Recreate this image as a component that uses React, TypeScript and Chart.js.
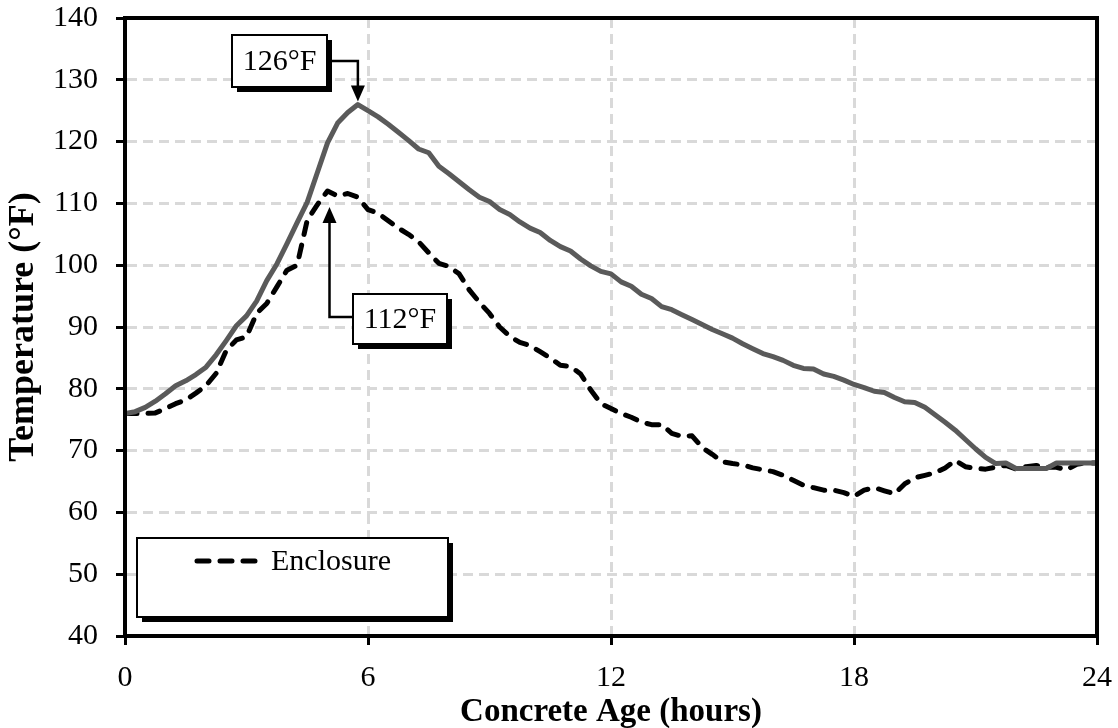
import React, { useEffect, useRef } from "react";
import { Chart, registerables } from "chart.js";

Chart.register(...registerables);

// Time since placement, in hours (15-minute readings)
const hours = [
  0, 0.25, 0.5, 0.75, 1, 1.25, 1.5, 1.75, 2, 2.25, 2.5, 2.75, 3, 3.25, 3.5, 3.75,
  4, 4.25, 4.5, 4.75, 5, 5.25, 5.5, 5.75, 6, 6.25, 6.5, 6.75, 7, 7.25, 7.5, 7.75,
  8, 8.25, 8.5, 8.75, 9, 9.25, 9.5, 9.75, 10, 10.25, 10.5, 10.75, 11, 11.25, 11.5, 11.75,
  12, 12.25, 12.5, 12.75, 13, 13.25, 13.5, 13.75, 14, 14.25, 14.5, 14.75, 15, 15.25, 15.5, 15.75,
  16, 16.25, 16.5, 16.75, 17, 17.25, 17.5, 17.75, 18, 18.25, 18.5, 18.75, 19, 19.25, 19.5, 19.75,
  20, 20.25, 20.5, 20.75, 21, 21.25, 21.5, 21.75, 22, 22.25, 22.5, 22.75, 23, 23.25, 23.5, 23.75,
  24,
];

// Concrete temperature (°F)
const concreteTemp = [
  76, 76.3, 77.0, 78.0, 79.2, 80.5, 81.3, 82.3, 83.5, 85.5, 87.8, 90.2, 91.8, 94.2, 97.5, 100.2,
  103.5, 106.9, 110.2, 115.0, 119.8, 123.0, 124.7, 126.0, 125.0, 124.0, 122.8, 121.5, 120.2, 118.8, 118.2, 116.0,
  114.8, 113.5, 112.2, 111.0, 110.3, 109.0, 108.2, 107.0, 106.0, 105.3, 104.0, 103.0, 102.3, 101.0, 99.9, 99.0,
  98.6, 97.3, 96.6, 95.3, 94.6, 93.3, 92.8, 92.0, 91.2, 90.4, 89.6, 88.9, 88.2, 87.3, 86.5, 85.7,
  85.2, 84.6, 83.8, 83.3, 83.2, 82.4, 82.0, 81.4, 80.7, 80.2, 79.6, 79.4, 78.6, 77.9, 77.8, 77.0,
  75.8, 74.6, 73.3, 71.8, 70.3, 68.9, 67.9, 68.0, 67.1, 67.1, 67.1, 67.1, 68.0, 68.0, 68.0, 68.0,
  68.0,
];

// Enclosure air temperature (°F)
const enclosureTemp = [
  76, 76, 76, 76.1, 76.8, 77.6, 78.2, 79.3, 80.5, 82.5, 86.2, 87.9, 88.4, 92.2, 93.8, 96.5,
  99.2, 100.0, 107.3, 109.8, 112.0, 111.2, 111.6, 111.0, 109.0, 108.4, 107.2, 106.0, 105.0, 103.8, 102.0, 100.3,
  99.8, 98.6, 96.0, 94.0, 92.2, 90.0, 88.5, 87.5, 87.0, 86.0, 85.0, 83.8, 83.6, 82.4, 79.8, 77.6,
  76.8, 76.0, 75.4, 74.6, 74.2, 74.2, 72.8, 72.3, 72.4, 70.5, 69.4, 68.2, 67.9, 67.7, 67.2, 66.9,
  66.6, 66.0, 65.2, 64.4, 64.0, 63.6, 63.6, 63.2, 62.6, 63.6, 64.0, 63.5, 63.0, 64.6, 65.6, 66.0,
  66.4, 67.2, 68.4, 67.4, 67.1, 67.0, 67.3, 67.6, 67.0, 67.4, 67.6, 67.3, 67.3, 66.9, 67.8, 68.0,
  68.0,
];

const xTickValues = [0, 6, 12, 18, 24];
const yTickValues = [40, 50, 60, 70, 80, 90, 100, 110, 120, 130, 140];

const concretePeak = { hour: 5.75, temp: 126, label: "126°F" };
const enclosurePeak = { hour: 5.0, temp: 112, label: "112°F" };
const legendLabel = "Enclosure";

const SERIF = "'Liberation Serif', 'Times New Roman', serif";

function shadowBox(ctx: CanvasRenderingContext2D, x: number, y: number, w: number, h: number) {
  ctx.fillStyle = "#000";
  ctx.fillRect(x + 5, y + 5, w, h);
  ctx.fillStyle = "#fff";
  ctx.fillRect(x, y, w, h);
  ctx.lineWidth = 2;
  ctx.strokeStyle = "#000";
  ctx.strokeRect(x, y, w, h);
}

function arrowHead(ctx: CanvasRenderingContext2D, tipX: number, tipY: number, dir: 1 | -1) {
  // dir 1: pointing down, -1: pointing up
  ctx.beginPath();
  ctx.moveTo(tipX, tipY);
  ctx.lineTo(tipX - 7, tipY - dir * 16);
  ctx.lineTo(tipX + 7, tipY - dir * 16);
  ctx.closePath();
  ctx.fillStyle = "#000";
  ctx.fill();
}

const overlayPlugin = {
  id: "overlay",
  afterDatasetsDraw(chart: any) {
    const { ctx, chartArea: a, scales } = chart;
    const xs = scales.x;
    const ys = scales.y;
    ctx.save();

    // plot frame
    ctx.strokeStyle = "#000";
    ctx.lineWidth = 4;
    ctx.strokeRect(a.left, a.top, a.right - a.left, a.bottom - a.top);

    ctx.font = `30px ${SERIF}`;
    ctx.textAlign = "center";
    ctx.textBaseline = "middle";

    // concrete peak callout
    {
      const tipX = xs.getPixelForValue(concretePeak.hour);
      const tipY = ys.getPixelForValue(concretePeak.temp) - 3;
      const bx = 232, by = 35, bw = 95, bh = 52;
      const ly = by + 26;
      ctx.strokeStyle = "#000";
      ctx.lineWidth = 2.5;
      ctx.beginPath();
      ctx.moveTo(bx + bw, ly);
      ctx.lineTo(tipX, ly);
      ctx.lineTo(tipX, tipY - 14);
      ctx.stroke();
      arrowHead(ctx, tipX, tipY, 1);
      shadowBox(ctx, bx, by, bw, bh);
      ctx.fillStyle = "#000";
      ctx.fillText(concretePeak.label, bx + bw / 2, by + bh / 2 + 1);
    }

    // enclosure peak callout
    {
      const tipX = xs.getPixelForValue(enclosurePeak.hour) + 2;
      const tipY = ys.getPixelForValue(enclosurePeak.temp) + 16;
      const bx = 353, by = 294, bw = 94, bh = 50;
      const ly = by + 23;
      ctx.strokeStyle = "#000";
      ctx.lineWidth = 2.5;
      ctx.beginPath();
      ctx.moveTo(bx, ly);
      ctx.lineTo(tipX, ly);
      ctx.lineTo(tipX, tipY + 14);
      ctx.stroke();
      arrowHead(ctx, tipX, tipY, -1);
      shadowBox(ctx, bx, by, bw, bh);
      ctx.fillStyle = "#000";
      ctx.fillText(enclosurePeak.label, bx + bw / 2, by + bh / 2 + 1);
    }

    // legend
    {
      const bx = 137, by = 538, bw = 311, bh = 79;
      shadowBox(ctx, bx, by, bw, bh);
      const ly = by + 23;
      ctx.strokeStyle = "#000";
      ctx.lineWidth = 5;
      ctx.lineCap = "round";
      ctx.setLineDash([12, 11]);
      ctx.beginPath();
      ctx.moveTo(197, ly);
      ctx.lineTo(263, ly);
      ctx.stroke();
      ctx.setLineDash([]);
      ctx.fillStyle = "#000";
      ctx.textAlign = "left";
      ctx.fillText(legendLabel, 271, ly + 1);
    }

    ctx.restore();
  },
};

// Keep the plot area fixed: labels are allowed to overhang the frame edges.
function clearScalePadding(scale: any) {
  scale.paddingTop = 0;
  scale.paddingBottom = 0;
  scale.paddingLeft = 0;
  scale.paddingRight = 0;
}

export default function App() {
  const canvasRef = useRef<HTMLCanvasElement | null>(null);

  useEffect(() => {
    const canvas = canvasRef.current;
    if (!canvas) return;

    const chart = new Chart(canvas, {
      type: "line",
      data: {
        datasets: [
          {
            label: "Concrete",
            data: hours.map((h, i) => ({ x: h, y: concreteTemp[i] })),
            borderColor: "#5a5a5a",
            borderWidth: 5,
            pointRadius: 0,
            tension: 0,
            borderJoinStyle: "round",
          },
          {
            label: legendLabel,
            data: hours.map((h, i) => ({ x: h, y: enclosureTemp[i] })),
            borderColor: "#000",
            borderWidth: 5,
            borderDash: [12, 11],
            borderCapStyle: "round",
            borderJoinStyle: "round",
            pointRadius: 0,
            tension: 0,
          },
        ],
      },
      options: {
        animation: false,
        responsive: false,
        maintainAspectRatio: false,
        layout: { padding: { top: 18, right: 21, left: 0, bottom: 0 } },
        plugins: {
          legend: { display: false },
          tooltip: { enabled: false },
        },
        scales: {
          x: {
            type: "linear",
            min: 0,
            max: 24,
            afterBuildTicks: (scale: any) => {
              scale.ticks = xTickValues.map((v) => ({ value: v }));
            },
            afterFit: (scale: any) => {
              scale.height = 92;
              clearScalePadding(scale);
            },
            grid: {
              color: "#d9d9d9",
              lineWidth: 3,
              tickLength: 9,
              tickColor: "#000",
              tickWidth: 3,
              tickBorderDash: [],
            },
            border: { display: true, color: "#000", width: 4, dash: [10, 6] },
            ticks: {
              color: "#000",
              padding: 15,
              maxRotation: 0,
              font: { family: SERIF, size: 30 },
            },
            title: {
              display: true,
              text: "Concrete Age (hours)",
              color: "#000",
              font: { family: SERIF, size: 33, weight: "bold", lineHeight: 0.92 },
              padding: { top: 0, bottom: 0 },
            },
          },
          y: {
            type: "linear",
            min: 40,
            max: 140,
            afterBuildTicks: (scale: any) => {
              scale.ticks = yTickValues.map((v) => ({ value: v }));
            },
            afterFit: (scale: any) => {
              scale.width = 125;
              clearScalePadding(scale);
            },
            grid: {
              color: "#d9d9d9",
              lineWidth: 3,
              tickLength: 9,
              tickColor: "#000",
              tickWidth: 3,
              tickBorderDash: [],
            },
            border: { display: true, color: "#000", width: 4, dash: [10, 6] },
            ticks: {
              color: "#000",
              padding: 18,
              font: { family: SERIF, size: 30 },
            },
            title: {
              display: true,
              text: "Temperature (°F)",
              color: "#000",
              font: { family: SERIF, size: 36, weight: "bold", lineHeight: 1 },
              padding: { top: 6, bottom: 0 },
            },
          },
        },
      },
      plugins: [overlayPlugin],
    } as any);

    return () => chart.destroy();
  }, []);

  return (
    <div style={{ position: "absolute", left: 0, top: 0, width: 1118, height: 728, background: "#fff" }}>
      <canvas ref={canvasRef} width={1118} height={728} style={{ display: "block" }} />
    </div>
  );
}
